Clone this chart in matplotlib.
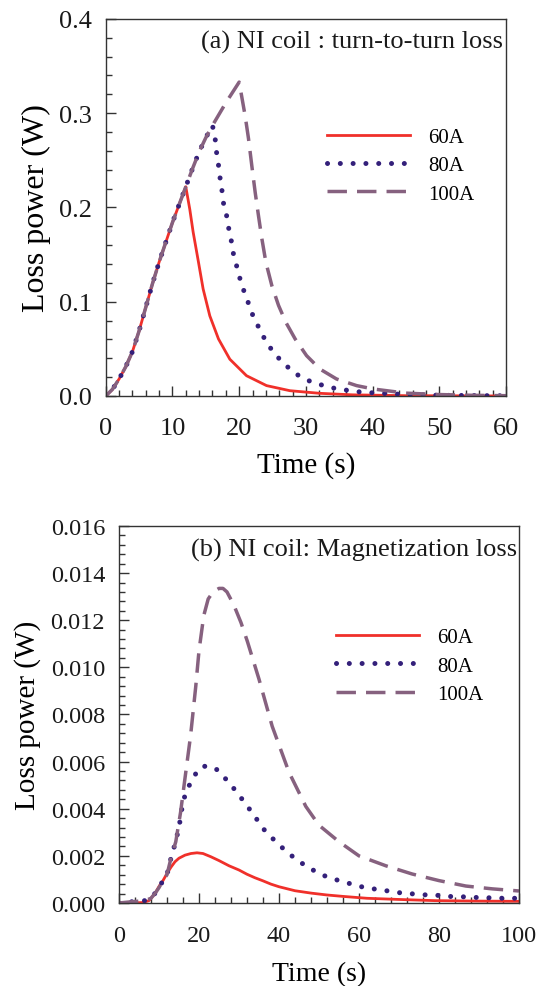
import matplotlib
matplotlib.use('Agg')
import matplotlib.pyplot as plt
from matplotlib.ticker import MultipleLocator

plt.rcParams['font.family'] = ['Liberation Serif', 'DejaVu Serif']

# ---- panel (a): turn-to-turn loss ----
rise_a = [0, 0.007, 0.018, 0.031, 0.047, 0.069, 0.094, 0.119, 0.142, 0.163, 0.184,
          0.203, 0.222, 0.241, 0.259, 0.274, 0.287, 0.299, 0.311, 0.322, 0.333]
rise_t = list(range(21))

t60a = rise_t[:13] + [12.6, 13.1, 13.9, 14.6, 15.6, 16.9, 18.6, 21.1, 24.1, 27.6, 32.1, 37, 45, 60]
p60a = rise_a[:13] + [0.198, 0.174, 0.142, 0.1135, 0.085, 0.0605, 0.039, 0.0215, 0.011, 0.0056,
                      0.0028, 0.0012, 0.0003, 0]

t80a = rise_t[:17] + [16.4, 16.6, 16.9, 17.1, 17.4, 17.6, 18.1, 18.4, 18.8, 19.1, 19.6, 20.1, 20.7,
                      21.4, 22.1, 23.0, 24.0, 25.3, 27.0, 28.9, 30.9, 32.7, 34.7, 36.6, 38.5, 40.4,
                      45, 50, 60]
p80a = rise_a[:17] + [0.273, 0.259, 0.245, 0.233, 0.2195, 0.206, 0.192, 0.179, 0.1655, 0.152, 0.1385,
                      0.125, 0.1117, 0.0982, 0.0845, 0.0718, 0.058, 0.0447, 0.0323, 0.0217, 0.0146,
                      0.011, 0.0074, 0.0057, 0.0039, 0.0032, 0.0015, 0.0007, 0.0002]

t100a = rise_t + [20.9, 21.4, 21.9, 22.4, 22.9, 23.4, 24.0, 24.9, 25.9, 27.0, 28.4, 30.1, 32.1,
                  34.6, 37.6, 40.1, 45, 50, 55, 60]
p100a = rise_a + [0.297, 0.273, 0.244, 0.216, 0.191, 0.167, 0.142, 0.117, 0.0961, 0.0781, 0.0604,
                  0.0428, 0.0286, 0.018, 0.011, 0.0074, 0.003, 0.0015, 0.0007, 0.0003]

# ---- panel (b): magnetization loss ----
t60b = [0, 3, 6, 7.5, 9, 10, 11, 12, 13, 14, 15, 16.5, 18, 19.5, 21, 23, 25, 27.5, 30, 32, 34,
        36, 38, 40, 44, 48, 52, 56, 62, 70, 79, 90, 100]
p60b = [0, 0, 0.00002, 0.0001, 0.0004, 0.0007, 0.00095, 0.00125, 0.00152, 0.00175, 0.0019,
        0.00203, 0.0021, 0.00213, 0.0021, 0.00196, 0.0018, 0.00158, 0.0014, 0.00122, 0.00107,
        0.00094, 0.0008, 0.00069, 0.00052, 0.00042, 0.00034, 0.00028, 0.0002, 0.00015, 0.0001,
        0.00008, 0.00007]

t80b = [0, 3, 6.5, 8, 9.2, 10, 11, 12, 13, 14, 15, 16, 17, 18.5, 20, 21, 22.5, 24, 25.5, 27, 29,
        31.7, 34, 36.3, 39.2, 42.4, 45.6, 48.7, 51.7, 55, 58.2, 61.3, 64.4, 67.7, 70.8, 74, 77,
        80.2, 83.3, 86.7, 89.8, 92.9, 96.1, 100]
p80b = [0, 0.00005, 0.0001, 0.0002, 0.00045, 0.00065, 0.00095, 0.0012, 0.0019, 0.0025, 0.0032,
        0.0043, 0.0048, 0.0053, 0.0057, 0.0058, 0.0058, 0.00573, 0.0055, 0.0052, 0.0048, 0.0042,
        0.00366, 0.00311, 0.0026, 0.0021, 0.0017, 0.00138, 0.00113, 0.00095, 0.0008, 0.00066,
        0.00058, 0.0005, 0.00042, 0.00038, 0.00034, 0.00032, 0.00027, 0.00026, 0.00023, 0.00022,
        0.0002, 0.0002]

t100b = [0, 3, 6.5, 8, 9.2, 10, 11, 12, 13, 14.2, 15.4, 16.7, 17.9, 19.2, 20, 21.2, 22.3, 23.5,
         25, 26, 27, 28.7, 30.5, 32.1, 35, 38.3, 42.5, 46.7, 50, 55, 60, 66.7, 73.3, 80, 86.7,
         93.3, 100]
p100b = [0, 0.00005, 0.0001, 0.0002, 0.00045, 0.00065, 0.00095, 0.0012, 0.0019, 0.0026, 0.00385,
         0.00555, 0.0071, 0.0092, 0.0107, 0.0122, 0.0129, 0.0132, 0.01335, 0.01335, 0.0132,
         0.01265, 0.0119, 0.0111, 0.0095, 0.0075, 0.00555, 0.0041, 0.0033, 0.0026, 0.002,
         0.00158, 0.00123, 0.00095, 0.00072, 0.0006, 0.00051]

labels = ['60A', '80A', '100A']

RED = '#f0302a'
NAVY = '#34207a'
MAUVE = '#86617f'
EDGE = '#333333'

fig = plt.figure(figsize=(5.45, 9.87), dpi=100)
ax1 = fig.add_axes([0.194, 0.5978, 0.7345, 0.382])
ax2 = fig.add_axes([0.2183, 0.0841, 0.734, 0.382])


def draw(ax, series, xmax, ymax, xmaj, xmin, ymaj, ymin, yfmt, fs_tick, xpad):
    (ta, pa), (tb, pb), (tc, pc) = series
    ax.plot(ta, pa, color=RED, lw=2.0, label=labels[0])
    ax.plot(tb, pb, color=NAVY, lw=3.6, linestyle=(0, (0.01, 2.55)),
            dash_capstyle='round', label=labels[1])
    ax.plot(tc, pc, color=MAUVE, lw=2.5, linestyle=(0, (5.6, 2.9)), label=labels[2])
    ax.set_xlim(0, xmax)
    ax.set_ylim(0, ymax)
    ax.xaxis.set_major_locator(MultipleLocator(xmaj))
    ax.xaxis.set_minor_locator(MultipleLocator(xmin))
    ax.yaxis.set_major_locator(MultipleLocator(ymaj))
    ax.yaxis.set_minor_locator(MultipleLocator(ymin))
    ax.yaxis.set_major_formatter(yfmt)
    ax.tick_params(which='both', direction='in', top=False, right=False,
                   color=EDGE, width=1.0, labelsize=fs_tick, labelcolor='#1a1a1a')
    ax.tick_params(which='major', length=7)
    ax.tick_params(which='minor', length=4.5)
    ax.tick_params(axis='x', pad=xpad)
    ax.tick_params(axis='y', pad=10)
    for s in ax.spines.values():
        s.set_color(EDGE)
        s.set_linewidth(1.0)


draw(ax1, [(t60a, p60a), (t80a, p80a), (t100a, p100a)], 60, 0.4, 10, 2, 0.1, 0.02,
     '{x:.1f}', 19, 15)
draw(ax2, [(t60b, p60b), (t80b, p80b), (t100b, p100b)], 100, 0.016, 20, 4, 0.002, 0.0004,
     '{x:.3f}', 17.5, 16)

ax1.set_xlabel('Time (s)', fontsize=21)
ax1.set_ylabel('Loss power (W)', fontsize=23)
ax1.xaxis.set_label_coords(0.5, -0.147)
ax1.yaxis.set_label_coords(-0.137, 0.5)
ax2.set_xlabel('Time (s)', fontsize=20)
ax2.set_ylabel('Loss power (W)', fontsize=21)
ax2.xaxis.set_label_coords(0.5, -0.155)
ax2.yaxis.set_label_coords(-0.195, 0.5)

ax1.text(0.9925, 0.939, '(a) NI coil : turn-to-turn loss', transform=ax1.transAxes,
         ha='right', va='center', fontsize=19, color='#1a1a1a')
ax2.text(0.995, 0.939, '(b) NI coil: Magnetization loss', transform=ax2.transAxes,
         ha='right', va='center', fontsize=19, color='#1a1a1a')

for ax, x0, y0 in [(ax1, 0.553, 0.712), (ax2, 0.5425, 0.73)]:
    ax.legend(loc='upper left', bbox_to_anchor=(x0, y0), frameon=False, fontsize=15,
              handlelength=4.0, handletextpad=0.85, labelspacing=0.42,
              borderpad=0, borderaxespad=0)

fig.savefig('out.png', dpi=100)
